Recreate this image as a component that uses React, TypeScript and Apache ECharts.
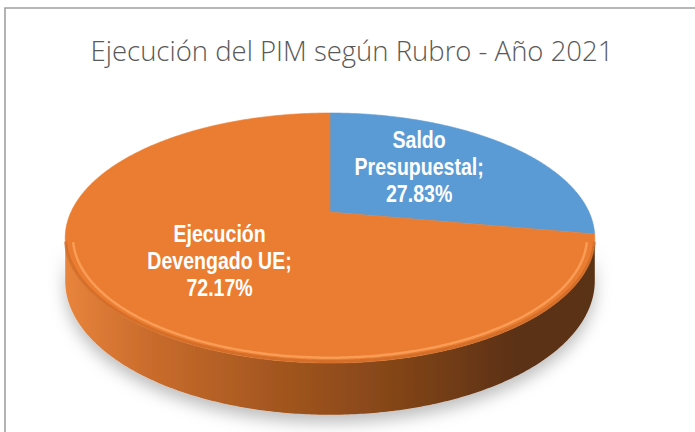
import React, { useEffect, useRef } from 'react';
import * as echarts from 'echarts';

// ---- data ----
const categories: string[] = ['Saldo Presupuestal', 'Ejecución Devengado UE'];
const values: number[] = [27.83, 72.17];
const sliceColors: string[] = ['#5B9BD5', '#EA7D32'];
const titleText = 'Ejecución del PIM según Rubro - Año 2021';

// ---- geometry of the tilted (perspective) pie ----
const CX = 330;
const CY = 212;
const RA = 259;
const RB = 119.6;
const K = 0.208;
const THICK = 41;
const TR = Math.acos(-K); // right silhouette angle (clockwise from top)
const TL = Math.PI * 2 - TR; // left silhouette angle
const labelOffsets: number[][] = [[-4, -9], [-4, 8]];

function proj(r: number, theta: number, depth: number): number[] {
  const u = r * Math.sin(theta);
  const v = r * Math.cos(theta);
  const w = 1 + K * v;
  return [CX + (RA * u) / w, CY - (RB * v) / w + (depth * THICK) / w];
}

const sideStops: Record<number, { offset: number; color: string }[]> = {
  0: [
    { offset: 0, color: '#6FA8DC' },
    { offset: 1, color: '#2B4F73' },
  ],
  1: [
    { offset: 0, color: '#E8843C' },
    { offset: 0.15, color: '#CB6D2D' },
    { offset: 0.4, color: '#A3561F' },
    { offset: 0.6, color: '#874719' },
    { offset: 0.85, color: '#5C3113' },
    { offset: 1, color: '#5A3012' },
  ],
};

export default function App() {
  const ref = useRef<HTMLDivElement>(null);
  useEffect(() => {
    if (!ref.current) return;
    const chart = echarts.init(ref.current, null, { renderer: 'svg' });
    const total = values.reduce((s, v) => s + v, 0);

    const renderItem = (params: any, api: any) => {
      const i = params.dataIndex;
      let acc = 0;
      for (let j = 0; j < i; j++) acc += values[j];
      const val = api.value(0);
      const t1 = (acc / total) * Math.PI * 2;
      const t2 = ((acc + val) / total) * Math.PI * 2;
      const children: any[] = [];
      const N = Math.max(8, Math.ceil((t2 - t1) / 0.01));
      const top: number[][] = [proj(0, 0, 0)];
      for (let s = 0; s <= N; s++) top.push(proj(1, t1 + ((t2 - t1) * s) / N, 0));
      children.push({
        type: 'polygon',
        z2: 3,
        shape: { points: top },
        style: { fill: sliceColors[i], stroke: sliceColors[i], lineWidth: 0.6 },
      });
      const a = Math.max(t1, TR);
      const b = Math.min(t2, TL);
      if (b > a) {
        const M = Math.max(4, Math.ceil((b - a) / 0.01));
        const pts: number[][] = [];
        for (let s = 0; s <= M; s++) pts.push(proj(1, a + ((b - a) * s) / M, 0));
        for (let s = M; s >= 0; s--) pts.push(proj(1, a + ((b - a) * s) / M, 1));
        children.push({
          type: 'polygon',
          z2: 1,
          shape: { points: pts },
          style: {
            fill: new echarts.graphic.LinearGradient(65, 0, 595, 0, sideStops[i], true),
            shadowBlur: 16,
            shadowColor: 'rgba(0,0,0,0.26)',
            shadowOffsetY: 8,
          },
        });
        const a2 = a + 0.04;
        const b2 = b - 0.04;
        const hl: number[][] = [];
        for (let s = 0; s <= M; s++) hl.push(proj(0.972, a2 + ((b2 - a2) * s) / M, 0));
        children.push({
          type: 'polyline',
          z2: 4,
          shape: { points: hl },
          style: { stroke: 'rgba(255,170,100,0.7)', lineWidth: 2.5, fill: null },
        });
        const dk: number[][] = [];
        for (let s = 0; s <= M; s++) {
          const p = proj(1, a2 + ((b2 - a2) * s) / M, 0);
          dk.push([p[0], p[1] - 1.5]);
        }
        children.push({
          type: 'polyline',
          z2: 4,
          shape: { points: dk },
          style: { stroke: 'rgba(190,95,30,0.5)', lineWidth: 3, fill: null },
        });
      }
      const mid = (t1 + t2) / 2;
      const lp = proj(0.5, mid, 0);
      const off = labelOffsets[i] || [0, 0];
      const name = categories[i].replace(' ', '\n');
      const pct = ((val / total) * 100).toFixed(2);
      children.push({
        type: 'text',
        z2: 10,
        x: lp[0] + off[0],
        y: lp[1] + off[1],
        scaleX: 0.85,
        style: {
          text: `${name};\n${pct}%`,
          fill: '#FFFFFF',
          font: 'bold 23px "Liberation Sans", Arial, sans-serif',
          textAlign: 'center',
          textVerticalAlign: 'middle',
          align: 'center',
          verticalAlign: 'middle',
          lineHeight: 27,
        },
      });
      return { type: 'group', children };
    };

    chart.setOption({
      animation: false,
      backgroundColor: '#FFFFFF',
      graphic: [
        {
          type: 'rect',
          shape: { x: 5, y: 8, width: 720, height: 460 },
          style: { fill: 'none', stroke: '#A0A0A0', lineWidth: 1.6 },
          z: -1,
        },
        {
          type: 'text',
          x: 352,
          y: 50,
          style: {
            text: titleText,
            fill: '#595959',
            font: '300 27.5px "Open Sans", "Noto Sans", sans-serif',
            textAlign: 'center',
            textVerticalAlign: 'middle',
            align: 'center',
            verticalAlign: 'middle',
          },
        },
      ],
      series: [
        {
          type: 'custom',
          coordinateSystem: 'none',
          silent: true,
          renderItem,
          data: values.map((v, i) => ({ value: v, name: categories[i] })),
        },
      ],
    });
    return () => chart.dispose();
  }, []);
  return (
    <div
      ref={ref}
      style={{ position: 'fixed', left: 0, top: 0, width: 695, height: 432, background: '#fff' }}
    />
  );
}
